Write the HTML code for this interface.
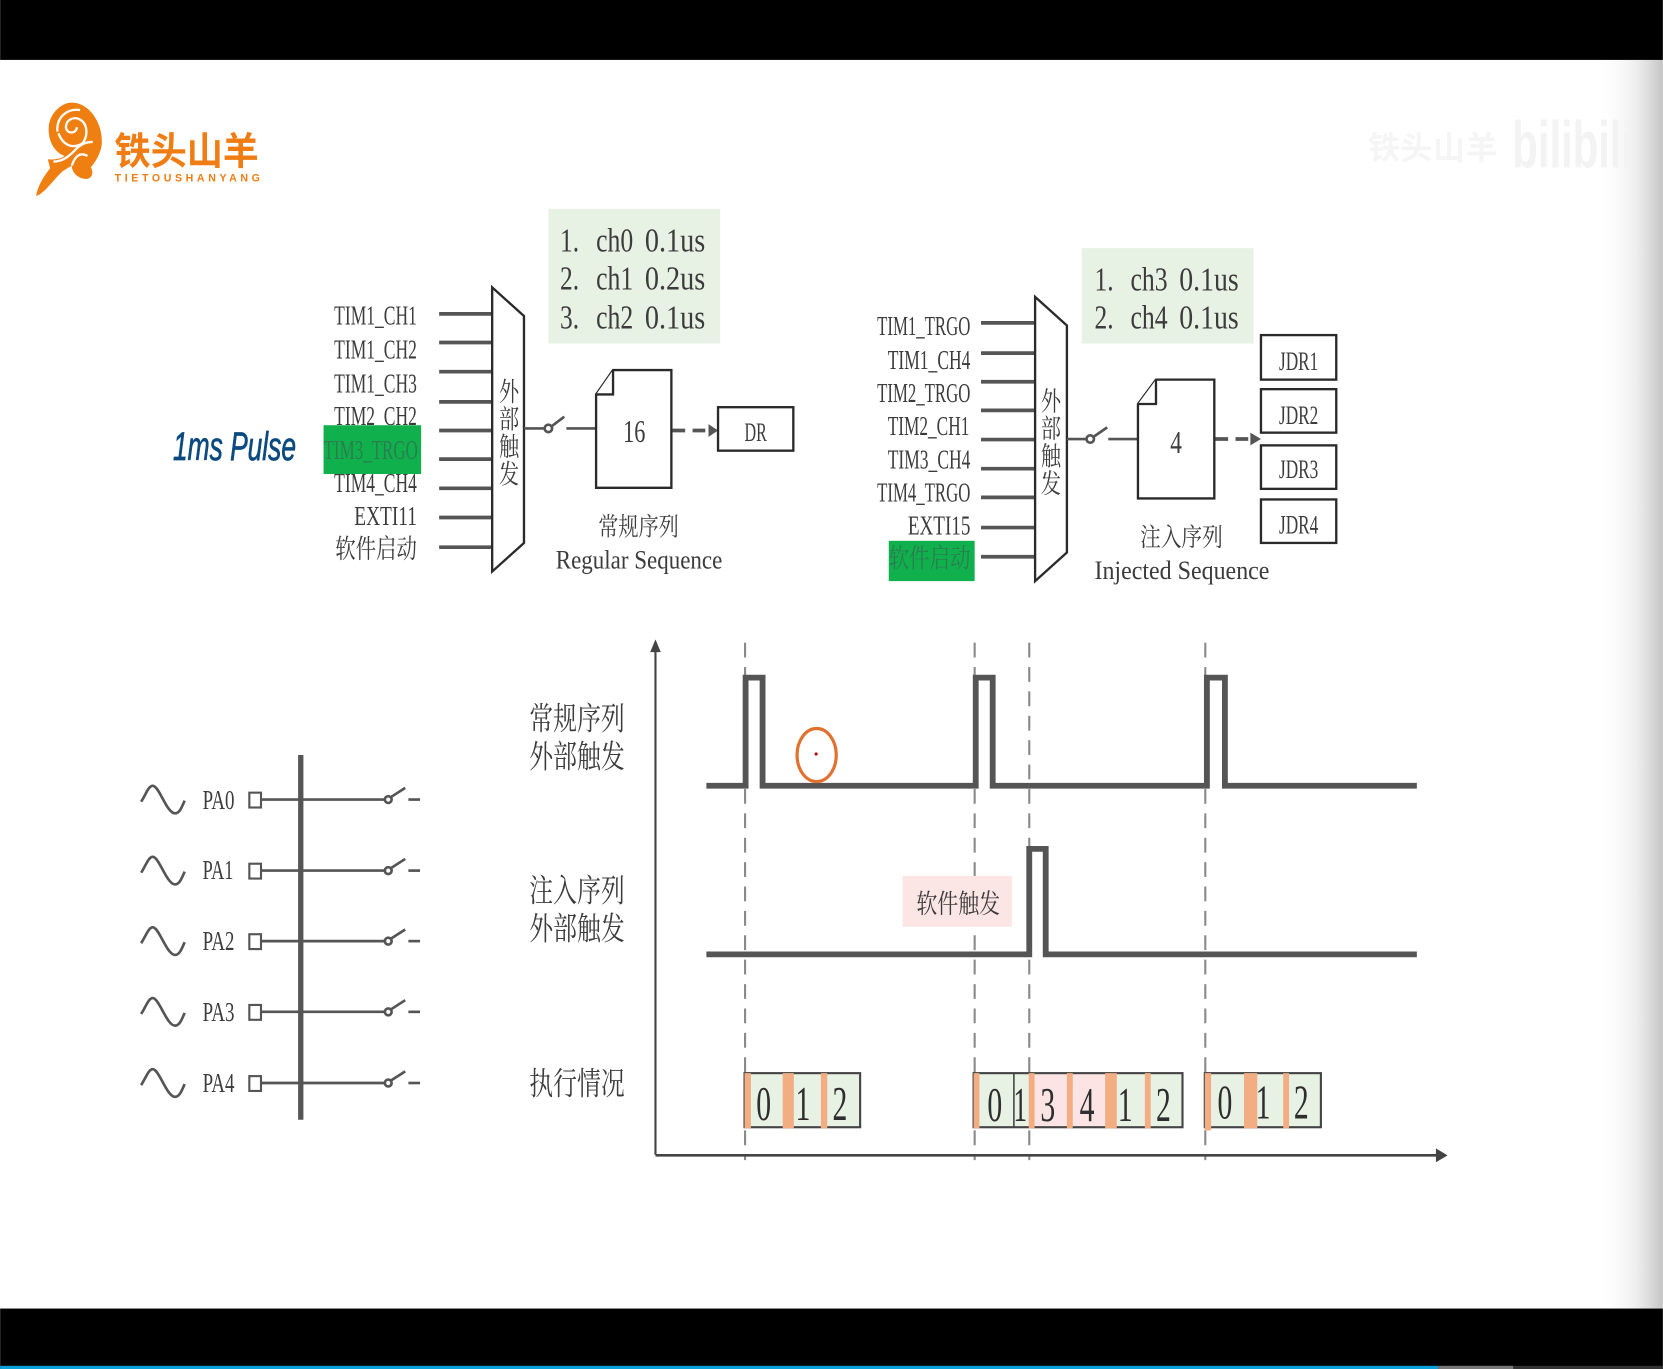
<!DOCTYPE html>
<html lang="zh"><head><meta charset="utf-8"><title>ADC sequence diagram</title>
<style>
html,body{margin:0;padding:0;background:#fff;width:1663px;height:1369px;overflow:hidden}
svg{display:block}
.l{font-family:"Liberation Serif","Noto Serif CJK SC",serif;fill:#3c3c3c}
.c{font-family:"Liberation Serif","Noto Serif CJK SC",serif;fill:#3c3c3c}
.in{stroke:#555;stroke-width:3.5}
.thin{stroke:#555;stroke-width:2.5;fill:none}
.box{fill:#fff;stroke:#2a2a2a;stroke-width:2.2}
.dash{stroke:#8a8a8a;stroke-width:2;stroke-dasharray:14 9}
.sig{fill:none;stroke:#555;stroke-width:5.5}
.g{fill:#e8f2e4}.p{fill:#fde4e4}.o{fill:#f2ae82}
.bd{fill:none;stroke:#444;stroke-width:2}
.sq{fill:#fff;stroke:#555;stroke-width:2}
</style></head><body>
<svg width="1663" height="1369" viewBox="0 0 1568 1291" xmlns="http://www.w3.org/2000/svg">
<defs>
<linearGradient id="sh" x1="0" x2="1" y1="0" y2="0"><stop offset="0" stop-color="#fff" stop-opacity="0"/><stop offset=".6" stop-color="#e6e6e6" stop-opacity=".7"/><stop offset="1" stop-color="#c4c4c4"/></linearGradient>
</defs>
<rect width="1568" height="1291" fill="#fff"/>
<rect x="1505" y="56" width="63" height="1178" fill="url(#sh)"/>

<!-- bars -->
<rect width="1568" height="56.500" fill="#000"/>
<rect y="1234" width="1568" height="57" fill="#000"/>
<rect y="1288" width="1356" height="3" fill="#0aa0dc"/>
<rect x="1356" y="1288" width="71" height="3" fill="#777"/>
<rect x="1427" y="1288" width="141" height="3" fill="#333"/>

<!-- logo -->
<g transform="scale(.9429) translate(0,80) scale(.3333)">
<path fill="#f07f12" d="M215 68C268 68 308 130 305 190C304 215 288 245 272 262C284 282 272 302 250 296C225 290 215 272 215 257L190 272C170 287 130 345 108 348C112 320 130 290 150 265L143 238C165 240 185 235 193 228C160 215 143 180 146 140C148 105 180 68 215 68Z"/>
<path fill="none" stroke="#fff" stroke-width="7" d="M172 155C168 112 200 85 240 90M175 160C188 195 215 207 245 192C264 172 264 135 242 120C220 106 194 122 198 145C203 164 230 160 230 142M160 245C190 245 212 225 232 203C245 192 262 185 278 186M215 257C225 228 240 215 262 228"/>
</g>
<text x="108" y="155" font-family="'Noto Sans CJK SC',sans-serif" font-weight="700" font-size="36" fill="#ef7d14" textLength="136" lengthAdjust="spacingAndGlyphs">铁头山羊</text>
<text x="108" y="171" font-family="'Liberation Sans',sans-serif" font-weight="700" font-size="10" fill="#ef7d14" textLength="137">TIETOUSHANYANG</text>

<!-- watermark -->
<text x="1290" y="150" font-family="'Noto Sans CJK SC',sans-serif" font-weight="700" font-size="30" fill="#f5f5f5" textLength="122">铁头山羊</text>
<text x="1426" y="158" font-family="'Liberation Sans',sans-serif" font-weight="700" font-size="62" fill="#f3f3f3" textLength="114" lengthAdjust="spacingAndGlyphs">bilibili</text>

<!-- LEFT BLOCK -->
<rect x="517" y="197" width="162" height="127" class="g"/>
<g class="l" font-size="32">
<text x="528" y="237" textLength="18" lengthAdjust="spacingAndGlyphs">1.</text><text x="562" y="237" textLength="35" lengthAdjust="spacingAndGlyphs">ch0</text><text x="608" y="237" textLength="57" lengthAdjust="spacingAndGlyphs">0.1us</text>
<text x="528" y="273" textLength="18" lengthAdjust="spacingAndGlyphs">2.</text><text x="562" y="273" textLength="35" lengthAdjust="spacingAndGlyphs">ch1</text><text x="608" y="273" textLength="57" lengthAdjust="spacingAndGlyphs">0.2us</text>
<text x="528" y="310" textLength="18" lengthAdjust="spacingAndGlyphs">3.</text><text x="562" y="310" textLength="35" lengthAdjust="spacingAndGlyphs">ch2</text><text x="608" y="310" textLength="57" lengthAdjust="spacingAndGlyphs">0.1us</text>
</g>
<g class="in">
<line x1="414" x2="464" y1="296" y2="296"/><line x1="414" x2="464" y1="323" y2="323"/><line x1="414" x2="464" y1="350.500" y2="350.500"/><line x1="414" x2="464" y1="379" y2="379"/><line x1="414" x2="464" y1="406" y2="406"/><line x1="414" x2="464" y1="433" y2="433"/><line x1="414" x2="464" y1="460.500" y2="460.500"/><line x1="414" x2="464" y1="488" y2="488"/><line x1="414" x2="464" y1="516" y2="516"/>
</g>
<polygon class="box" points="464,271 494,298 494,512 464,539"/>
<g class="l" font-size="26">
<text x="315" y="306" textLength="78" lengthAdjust="spacingAndGlyphs">TIM1_CH1</text>
<text x="315" y="338" textLength="78" lengthAdjust="spacingAndGlyphs">TIM1_CH2</text>
<text x="315" y="370" textLength="78" lengthAdjust="spacingAndGlyphs">TIM1_CH3</text>
<text x="315" y="401" textLength="78" lengthAdjust="spacingAndGlyphs">TIM2_CH2</text>
<text x="315" y="464" textLength="78" lengthAdjust="spacingAndGlyphs">TIM4_CH4</text>
<text x="334" y="495" textLength="59" lengthAdjust="spacingAndGlyphs">EXTI11</text>
</g>
<text class="c" x="316" y="526" font-size="25" textLength="77" lengthAdjust="spacingAndGlyphs">软件启动</text>
<rect x="305" y="401" width="92" height="46" fill="#10b14c"/>
<text x="305" y="433" font-family="'Liberation Serif',serif" font-size="26" fill="#2b7d50" textLength="89" lengthAdjust="spacingAndGlyphs">TIM3_TRGO</text>
<g class="c" font-size="25">
<text x="470.500" y="378" textLength="19" lengthAdjust="spacingAndGlyphs">外</text><text x="470.500" y="404" textLength="19" lengthAdjust="spacingAndGlyphs">部</text><text x="470.500" y="430" textLength="19" lengthAdjust="spacingAndGlyphs">触</text><text x="470.500" y="456" textLength="19" lengthAdjust="spacingAndGlyphs">发</text>
</g>
<line class="thin" x1="494" x2="513" y1="404" y2="404"/>
<circle class="thin" cx="517" cy="404" r="3.500"/>
<line class="thin" x1="520" y1="402" x2="532" y2="393"/>
<line class="thin" x1="534" x2="562" y1="404" y2="404"/>
<path class="box" d="M562 372L578 349H633V460H562Z"/>
<path class="box" d="M578 349V372H562" fill="none"/>
<text class="l" x="598" y="417" font-size="30" text-anchor="middle" textLength="21" lengthAdjust="spacingAndGlyphs">16</text>
<line x1="634" x2="668" y1="406" y2="406" stroke="#555" stroke-width="3.500" stroke-dasharray="12 7"/>
<polygon points="668,400 677,406 668,412" fill="#555"/>
<rect x="677" y="384" width="71" height="41" class="box"/>
<text class="l" x="702" y="416" font-size="25" textLength="21" lengthAdjust="spacingAndGlyphs">DR</text>
<text class="c" x="564" y="505" font-size="24" textLength="76" lengthAdjust="spacingAndGlyphs">常规序列</text>
<text class="l" x="524" y="536" font-size="25" textLength="157" lengthAdjust="spacingAndGlyphs">Regular Sequence</text>
<text x="163" y="434" font-family="'Liberation Sans',sans-serif" font-style="italic" font-size="38" fill="#0b4a80" stroke="#0b4a80" stroke-width=".7" textLength="116" lengthAdjust="spacingAndGlyphs">1ms Pulse</text>

<!-- RIGHT BLOCK -->
<rect x="1020" y="234" width="162" height="90" class="g"/>
<g class="l" font-size="32">
<text x="1032" y="274" textLength="18" lengthAdjust="spacingAndGlyphs">1.</text><text x="1066" y="274" textLength="35" lengthAdjust="spacingAndGlyphs">ch3</text><text x="1112" y="274" textLength="56" lengthAdjust="spacingAndGlyphs">0.1us</text>
<text x="1032" y="310" textLength="18" lengthAdjust="spacingAndGlyphs">2.</text><text x="1066" y="310" textLength="35" lengthAdjust="spacingAndGlyphs">ch4</text><text x="1112" y="310" textLength="56" lengthAdjust="spacingAndGlyphs">0.1us</text>
</g>
<g class="in">
<line x1="925" x2="976" y1="304.500" y2="304.500"/><line x1="925" x2="976" y1="333" y2="333"/><line x1="925" x2="976" y1="360" y2="360"/><line x1="925" x2="976" y1="387" y2="387"/><line x1="925" x2="976" y1="414.500" y2="414.500"/><line x1="925" x2="976" y1="442" y2="442"/><line x1="925" x2="976" y1="469" y2="469"/><line x1="925" x2="976" y1="497.500" y2="497.500"/><line x1="925" x2="976" y1="525" y2="525"/>
</g>
<polygon class="box" points="976,280 1006,307 1006,521 976,548"/>
<g class="l" font-size="26">
<text x="827" y="316" textLength="88" lengthAdjust="spacingAndGlyphs">TIM1_TRGO</text>
<text x="837" y="348" textLength="78" lengthAdjust="spacingAndGlyphs">TIM1_CH4</text>
<text x="827" y="379" textLength="88" lengthAdjust="spacingAndGlyphs">TIM2_TRGO</text>
<text x="837" y="410" textLength="77" lengthAdjust="spacingAndGlyphs">TIM2_CH1</text>
<text x="837" y="442" textLength="78" lengthAdjust="spacingAndGlyphs">TIM3_CH4</text>
<text x="827" y="473" textLength="88" lengthAdjust="spacingAndGlyphs">TIM4_TRGO</text>
<text x="856" y="504" textLength="59" lengthAdjust="spacingAndGlyphs">EXTI15</text>
</g>
<rect x="838" y="510" width="81" height="38" fill="#10b14c"/>
<text x="838" y="535" font-family="'Liberation Serif','Noto Serif CJK SC',serif" font-size="25" fill="#2b7d50" textLength="77" lengthAdjust="spacingAndGlyphs">软件启动</text>
<g class="c" font-size="25">
<text x="981.500" y="387" textLength="19" lengthAdjust="spacingAndGlyphs">外</text><text x="981.500" y="413" textLength="19" lengthAdjust="spacingAndGlyphs">部</text><text x="981.500" y="439" textLength="19" lengthAdjust="spacingAndGlyphs">触</text><text x="981.500" y="465" textLength="19" lengthAdjust="spacingAndGlyphs">发</text>
</g>
<line class="thin" x1="1006" x2="1024" y1="414" y2="414"/>
<circle class="thin" cx="1028" cy="414" r="3.500"/>
<line class="thin" x1="1031" y1="412" x2="1044" y2="403"/>
<line class="thin" x1="1045" x2="1073" y1="414" y2="414"/>
<path class="box" d="M1073 381L1090 358H1145V470H1073Z"/>
<path class="box" d="M1090 358V381H1073" fill="none"/>
<text class="l" x="1109" y="427" font-size="30" text-anchor="middle" textLength="11" lengthAdjust="spacingAndGlyphs">4</text>
<line x1="1146" x2="1180" y1="414" y2="414" stroke="#555" stroke-width="3.500" stroke-dasharray="12 7"/>
<polygon points="1179,408 1189,414 1179,420" fill="#555"/>
<rect x="1189" y="316" width="71" height="42" class="box"/>
<rect x="1189" y="367" width="71" height="41" class="box"/>
<rect x="1189" y="420" width="71" height="41" class="box"/>
<rect x="1189" y="471" width="71" height="41" class="box"/>
<g class="l" font-size="25">
<text x="1206" y="349" textLength="37" lengthAdjust="spacingAndGlyphs">JDR1</text>
<text x="1206" y="400" textLength="37" lengthAdjust="spacingAndGlyphs">JDR2</text>
<text x="1206" y="451" textLength="37" lengthAdjust="spacingAndGlyphs">JDR3</text>
<text x="1206" y="503" textLength="37" lengthAdjust="spacingAndGlyphs">JDR4</text>
</g>
<text class="c" x="1075" y="515" font-size="24" textLength="78" lengthAdjust="spacingAndGlyphs">注入序列</text>
<text class="l" x="1032" y="546" font-size="25" textLength="165" lengthAdjust="spacingAndGlyphs">Injected Sequence</text>

<!-- PA pins -->
<line x1="283.500" x2="283.500" y1="712" y2="1056" stroke="#555" stroke-width="5"/>
<g>
<path class="thin" d="M133 756C138 748 140 741 144 741C150 741 157 767 165 767C169 767 171 762 174 755"/>
<rect x="235" y="747.500" width="11" height="14" class="sq"/>
<line class="thin" x1="246" x2="362" y1="754" y2="754"/><circle class="thin" cx="366" cy="754" r="3.200"/><line class="thin" x1="368" y1="752" x2="382" y2="743"/><line class="thin" x1="385" x2="396" y1="754" y2="754"/>
</g>
<g transform="translate(0,67)">
<path class="thin" d="M133 756C138 748 140 741 144 741C150 741 157 767 165 767C169 767 171 762 174 755"/>
<rect x="235" y="747.500" width="11" height="14" class="sq"/>
<line class="thin" x1="246" x2="362" y1="754" y2="754"/><circle class="thin" cx="366" cy="754" r="3.200"/><line class="thin" x1="368" y1="752" x2="382" y2="743"/><line class="thin" x1="385" x2="396" y1="754" y2="754"/>
</g>
<g transform="translate(0,133.500)">
<path class="thin" d="M133 756C138 748 140 741 144 741C150 741 157 767 165 767C169 767 171 762 174 755"/>
<rect x="235" y="747.500" width="11" height="14" class="sq"/>
<line class="thin" x1="246" x2="362" y1="754" y2="754"/><circle class="thin" cx="366" cy="754" r="3.200"/><line class="thin" x1="368" y1="752" x2="382" y2="743"/><line class="thin" x1="385" x2="396" y1="754" y2="754"/>
</g>
<g transform="translate(0,200.200)">
<path class="thin" d="M133 756C138 748 140 741 144 741C150 741 157 767 165 767C169 767 171 762 174 755"/>
<rect x="235" y="747.500" width="11" height="14" class="sq"/>
<line class="thin" x1="246" x2="362" y1="754" y2="754"/><circle class="thin" cx="366" cy="754" r="3.200"/><line class="thin" x1="368" y1="752" x2="382" y2="743"/><line class="thin" x1="385" x2="396" y1="754" y2="754"/>
</g>
<g transform="translate(0,267.300)">
<path class="thin" d="M133 756C138 748 140 741 144 741C150 741 157 767 165 767C169 767 171 762 174 755"/>
<rect x="235" y="747.500" width="11" height="14" class="sq"/>
<line class="thin" x1="246" x2="362" y1="754" y2="754"/><circle class="thin" cx="366" cy="754" r="3.200"/><line class="thin" x1="368" y1="752" x2="382" y2="743"/><line class="thin" x1="385" x2="396" y1="754" y2="754"/>
</g>
<g class="l" font-size="26">
<text x="191" y="763" textLength="30" lengthAdjust="spacingAndGlyphs">PA0</text>
<text x="191" y="829" textLength="29" lengthAdjust="spacingAndGlyphs">PA1</text>
<text x="191" y="896" textLength="30" lengthAdjust="spacingAndGlyphs">PA2</text>
<text x="191" y="963" textLength="30" lengthAdjust="spacingAndGlyphs">PA3</text>
<text x="191" y="1030" textLength="30" lengthAdjust="spacingAndGlyphs">PA4</text>
</g>

<!-- timing -->
<g class="dash">
<line x1="702.500" x2="702.500" y1="606" y2="1094"/>
<line x1="919" x2="919" y1="606" y2="1094"/>
<line x1="970.500" x2="970.500" y1="606" y2="1094"/>
<line x1="1136.500" x2="1136.500" y1="606" y2="1094"/>
</g>
<line x1="618" x2="618" y1="1089" y2="612" stroke="#444" stroke-width="2"/>
<polygon points="618,603 613,615 623,615" fill="#444"/>
<line x1="618" x2="1357" y1="1089.500" y2="1089.500" stroke="#444" stroke-width="2.500"/>
<polygon points="1365,1089.500 1354,1083 1354,1096" fill="#444"/>
<path class="sig" d="M666 741H703V639H719V741H920V639H936V741H1138V639H1155V741H1336"/>
<path class="sig" d="M666 900H970.500V800.500H986V900H1336"/>
<ellipse cx="770" cy="712" rx="18.500" ry="25" fill="none" stroke="#e2702e" stroke-width="3"/>
<circle cx="769.500" cy="711" r="1.500" fill="#b01010"/>
<rect x="851" y="826" width="103" height="48" fill="#fbe5e5"/>
<text class="c" x="864" y="861" font-size="25" textLength="79" lengthAdjust="spacingAndGlyphs">软件触发</text>
<g class="c" font-size="30">
<text x="499" y="688" textLength="90" lengthAdjust="spacingAndGlyphs">常规序列</text>
<text x="499" y="724" textLength="90" lengthAdjust="spacingAndGlyphs">外部触发</text>
<text x="499" y="850" textLength="90" lengthAdjust="spacingAndGlyphs">注入序列</text>
<text x="499" y="886" textLength="90" lengthAdjust="spacingAndGlyphs">外部触发</text>
<text x="499" y="1032" textLength="90" lengthAdjust="spacingAndGlyphs">执行情况</text>
</g>

<!-- exec block 1 -->
<rect x="702" y="1012" width="109" height="52" class="g"/>
<rect x="702" y="1012" width="109" height="51" class="bd"/>
<rect x="702" y="1012" width="6" height="52" class="o"/><rect x="738" y="1012" width="10.500" height="52" class="o"/><rect x="774" y="1012" width="6" height="52" class="o"/>
<!-- exec block 2 -->
<rect x="918" y="1012" width="197" height="52" class="g"/>
<rect x="970" y="1012" width="72" height="52" class="p"/>
<rect x="918" y="1012" width="197" height="51" class="bd"/>
<line x1="956" x2="956" y1="1012" y2="1063" stroke="#444" stroke-width="1.500"/>
<rect x="918" y="1012" width="5.500" height="52" class="o"/><rect x="970" y="1012" width="5.500" height="52" class="o"/><rect x="1006" y="1012" width="5.500" height="52" class="o"/><rect x="1042" y="1012" width="11" height="52" class="o"/><rect x="1079.500" y="1012" width="5.500" height="52" class="o"/>
<!-- exec block 3 -->
<rect x="1136" y="1012" width="109.500" height="52" class="g"/>
<rect x="1136" y="1012" width="109.500" height="51" class="bd"/>
<rect x="1136" y="1012" width="6" height="54" class="o"/><rect x="1173" y="1012" width="12.500" height="52" class="o"/><rect x="1210" y="1012" width="5.500" height="52" class="o"/>
<g class="l" font-size="46" text-anchor="middle" style="fill:#2e2e2e">
<text x="720" y="1056" textLength="14" lengthAdjust="spacingAndGlyphs">0</text>
<text x="757" y="1056" textLength="14" lengthAdjust="spacingAndGlyphs">1</text>
<text x="792" y="1056" textLength="14" lengthAdjust="spacingAndGlyphs">2</text>
<text x="938" y="1057" textLength="14" lengthAdjust="spacingAndGlyphs">0</text>
<text x="962" y="1057" textLength="13" lengthAdjust="spacingAndGlyphs">1</text>
<text x="988" y="1057" textLength="14" lengthAdjust="spacingAndGlyphs">3</text>
<text x="1025" y="1057" textLength="14" lengthAdjust="spacingAndGlyphs">4</text>
<text x="1061" y="1057" textLength="14" lengthAdjust="spacingAndGlyphs">1</text>
<text x="1097" y="1057" textLength="14" lengthAdjust="spacingAndGlyphs">2</text>
<text x="1155" y="1055" textLength="14" lengthAdjust="spacingAndGlyphs">0</text>
<text x="1191" y="1055" textLength="14" lengthAdjust="spacingAndGlyphs">1</text>
<text x="1227" y="1055" textLength="14" lengthAdjust="spacingAndGlyphs">2</text>
</g>
</svg>
</body></html>
